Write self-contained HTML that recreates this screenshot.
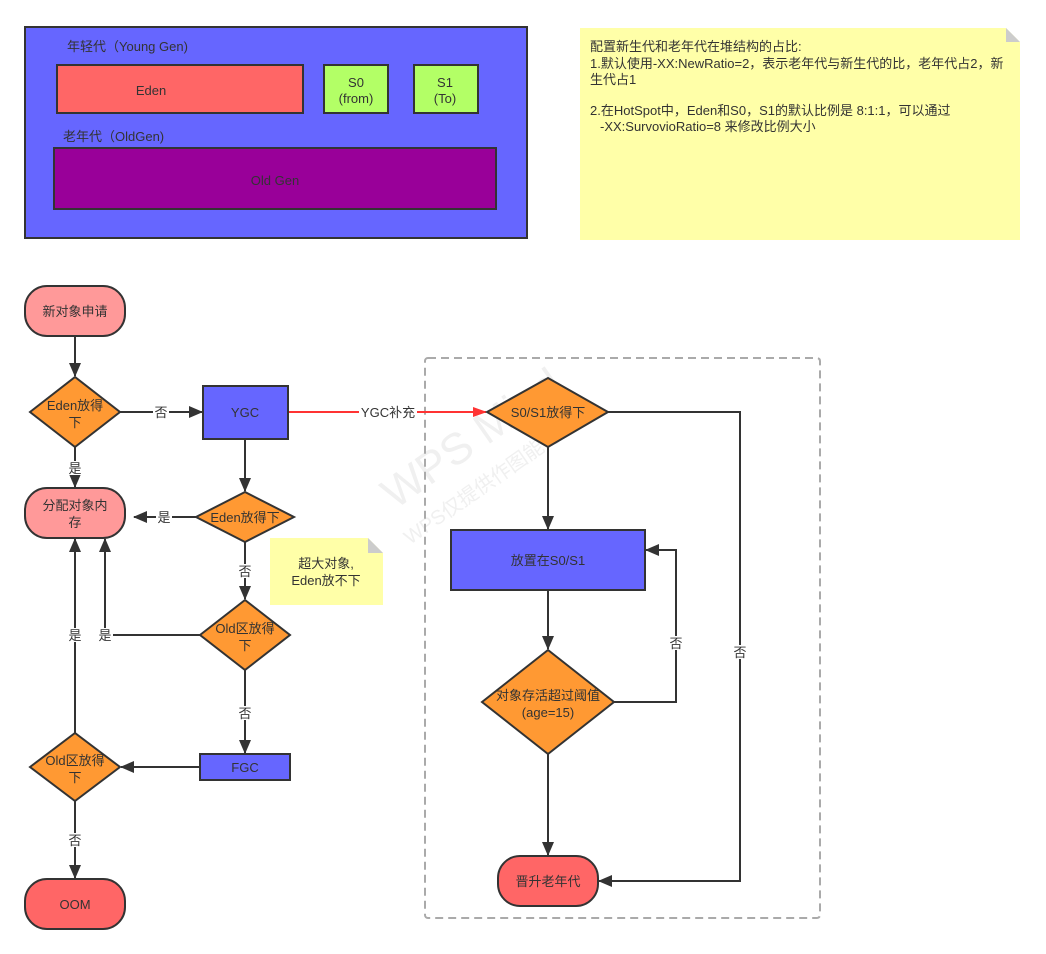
<!DOCTYPE html>
<html><head><meta charset="utf-8"><style>
html,body{margin:0;padding:0;background:#fff;}
svg{display:block;font-family:"Liberation Sans","Noto Sans CJK SC",sans-serif;}
text{fill:#333;font-size:13px;}
</style></head><body>
<svg width="1046" height="954" viewBox="0 0 1046 954" xmlns="http://www.w3.org/2000/svg">
<defs>
<marker id="a" markerWidth="14" markerHeight="12" refX="13" refY="6" orient="auto" markerUnits="userSpaceOnUse"><path d="M0,0 L14,6 L0,12 z" fill="#333"/></marker>
<marker id="r" markerWidth="14" markerHeight="10" refX="13" refY="5" orient="auto" markerUnits="userSpaceOnUse"><path d="M0,0 L14,5 L0,10 z" fill="#f33"/></marker>
</defs>
<!-- top -->
<rect x="25" y="27" width="502" height="211" fill="#6666ff" stroke="#333" stroke-width="2"/>
<text x="67" y="51">年轻代（Young Gen)</text>
<rect x="57" y="65" width="246" height="48" fill="#ff6666" stroke="#333" stroke-width="2"/>
<text x="151" y="95" text-anchor="middle">Eden</text>
<rect x="324" y="65" width="64" height="48" fill="#b3ff66" stroke="#333" stroke-width="2"/>
<text x="356" y="87" text-anchor="middle">S0</text><text x="356" y="103" text-anchor="middle">(from)</text>
<rect x="414" y="65" width="64" height="48" fill="#b3ff66" stroke="#333" stroke-width="2"/>
<text x="445" y="87" text-anchor="middle">S1</text><text x="445" y="103" text-anchor="middle">(To)</text>
<text x="63" y="141">老年代（OldGen)</text>
<rect x="54" y="148" width="442" height="61" fill="#990099" stroke="#333" stroke-width="2"/>
<text x="275" y="185" text-anchor="middle">Old Gen</text>
<path d="M580,28 H1006 L1020,42 V240 H580 Z" fill="#ffffa8"/>
<path d="M1006,28 L1020,42 H1006 Z" fill="#ccc"/>
<text><tspan x="590" y="51">配置新生代和老年代在堆结构的占比:</tspan><tspan x="590" y="68">1.默认使用-XX:NewRatio=2，表示老年代与新生代的比，老年代占2，新</tspan><tspan x="590" y="84">生代占1</tspan><tspan x="590" y="115">2.在HotSpot中，Eden和S0，S1的默认比例是 8:1:1，可以通过</tspan><tspan x="600" y="131">-XX:SurvovioRatio=8 来修改比例大小</tspan></text>
<!-- watermark -->
<text transform="translate(395,510) rotate(-35)" style="fill:#f0f0f0;font-size:44px">WPS Mind</text>
<text transform="translate(410,545) rotate(-35)" style="fill:#f0f0f0;font-size:20px">WPS仅提供作图能力</text>
<!-- dashed -->
<rect x="425" y="358" width="395" height="560" fill="none" stroke="#aaa" stroke-width="2" stroke-dasharray="8,5" rx="3"/>
<!-- connectors -->
<g stroke="#333" stroke-width="2" fill="none">
<line x1="75" y1="336" x2="75" y2="376" marker-end="url(#a)"/>
<line x1="120" y1="412" x2="202" y2="412" marker-end="url(#a)"/>
<line x1="75" y1="447" x2="75" y2="487" marker-end="url(#a)"/>
<line x1="245" y1="439" x2="245" y2="491" marker-end="url(#a)"/>
<line x1="196" y1="517" x2="134" y2="517" marker-end="url(#a)"/>
<line x1="245" y1="542" x2="245" y2="599" marker-end="url(#a)"/>
<polyline points="200,635 105,635 105,539" marker-end="url(#a)"/>
<line x1="245" y1="670" x2="245" y2="753" marker-end="url(#a)"/>
<line x1="200" y1="767" x2="121" y2="767" marker-end="url(#a)"/>
<line x1="75" y1="733" x2="75" y2="539" marker-end="url(#a)"/>
<line x1="75" y1="801" x2="75" y2="878" marker-end="url(#a)"/>
<line x1="548" y1="447" x2="548" y2="529" marker-end="url(#a)"/>
<line x1="548" y1="590" x2="548" y2="649" marker-end="url(#a)"/>
<polyline points="614,702 676,702 676,550 646,550" marker-end="url(#a)"/>
<line x1="548" y1="754" x2="548" y2="855" marker-end="url(#a)"/>
<polyline points="608,412 740,412 740,881 599,881" marker-end="url(#a)"/>
</g>
<line x1="288" y1="412" x2="486" y2="412" stroke="#f33" stroke-width="2" marker-end="url(#r)"/>
<g>
<rect x="359" y="405" width="58" height="14" fill="#fff"/><text x="388" y="417" text-anchor="middle">YGC补充</text>
<rect x="153" y="405" width="16" height="14" fill="#fff"/><text x="161" y="417" text-anchor="middle">否</text>
<rect x="67" y="461" width="16" height="14" fill="#fff"/><text x="75" y="473" text-anchor="middle">是</text>
<rect x="156" y="511" width="16" height="14" fill="#fff"/><text x="164" y="522" text-anchor="middle">是</text>
<rect x="237" y="564" width="16" height="14" fill="#fff"/><text x="245" y="576" text-anchor="middle">否</text>
<rect x="97" y="628" width="16" height="14" fill="#fff"/><text x="105" y="640" text-anchor="middle">是</text>
<rect x="67" y="628" width="16" height="14" fill="#fff"/><text x="75" y="640" text-anchor="middle">是</text>
<rect x="237" y="706" width="16" height="14" fill="#fff"/><text x="245" y="718" text-anchor="middle">否</text>
<rect x="67" y="833" width="16" height="14" fill="#fff"/><text x="75" y="845" text-anchor="middle">否</text>
<rect x="668" y="636" width="16" height="14" fill="#fff"/><text x="676" y="648" text-anchor="middle">否</text>
<rect x="732" y="645" width="16" height="14" fill="#fff"/><text x="740" y="657" text-anchor="middle">否</text>
</g>
<!-- nodes -->
<g stroke="#333" stroke-width="2">
<rect x="25" y="286" width="100" height="50" rx="22" fill="#ff9999"/>
<polygon points="30,412 75,377 120,412 75,447" fill="#ff9933"/>
<rect x="203" y="386" width="85" height="53" fill="#6666ff"/>
<polygon points="487,412 548,378 608,412 548,447" fill="#ff9933"/>
<rect x="25" y="488" width="100" height="50" rx="22" fill="#ff9999"/>
<polygon points="196,517 245,492 294,517 245,542" fill="#ff9933"/>
<polygon points="200,635 245,600 290,635 245,670" fill="#ff9933"/>
<rect x="200" y="754" width="90" height="26" fill="#6666ff"/>
<polygon points="30,767 75,733 120,767 75,801" fill="#ff9933"/>
<rect x="25" y="879" width="100" height="50" rx="22" fill="#ff6666"/>
<rect x="451" y="530" width="194" height="60" fill="#6666ff"/>
<polygon points="482,702 548,650 614,702 548,754" fill="#ff9933"/>
<rect x="498" y="856" width="100" height="50" rx="22" fill="#ff6666"/>
</g>
<path d="M270,538 H368 L383,553 V605 H270 Z" fill="#ffffa8"/>
<path d="M368,538 L383,553 H368 Z" fill="#ccc"/>
<g text-anchor="middle">
<text x="75" y="316">新对象申请</text>
<text x="75" y="410">Eden放得</text><text x="75" y="427">下</text>
<text x="245" y="417">YGC</text>
<text x="548" y="417">S0/S1放得下</text>
<text x="75" y="510">分配对象内</text><text x="75" y="527">存</text>
<text x="245" y="522">Eden放得下</text>
<text x="326" y="568">超大对象,</text><text x="326" y="585">Eden放不下</text>
<text x="245" y="633">Old区放得</text><text x="245" y="650">下</text>
<text x="245" y="772">FGC</text>
<text x="75" y="765">Old区放得</text><text x="75" y="782">下</text>
<text x="75" y="909">OOM</text>
<text x="548" y="565">放置在S0/S1</text>
<text x="548" y="700">对象存活超过阈值</text><text x="548" y="717">(age=15)</text>
<text x="548" y="886">晋升老年代</text>
</g>
</svg>
</body></html>
